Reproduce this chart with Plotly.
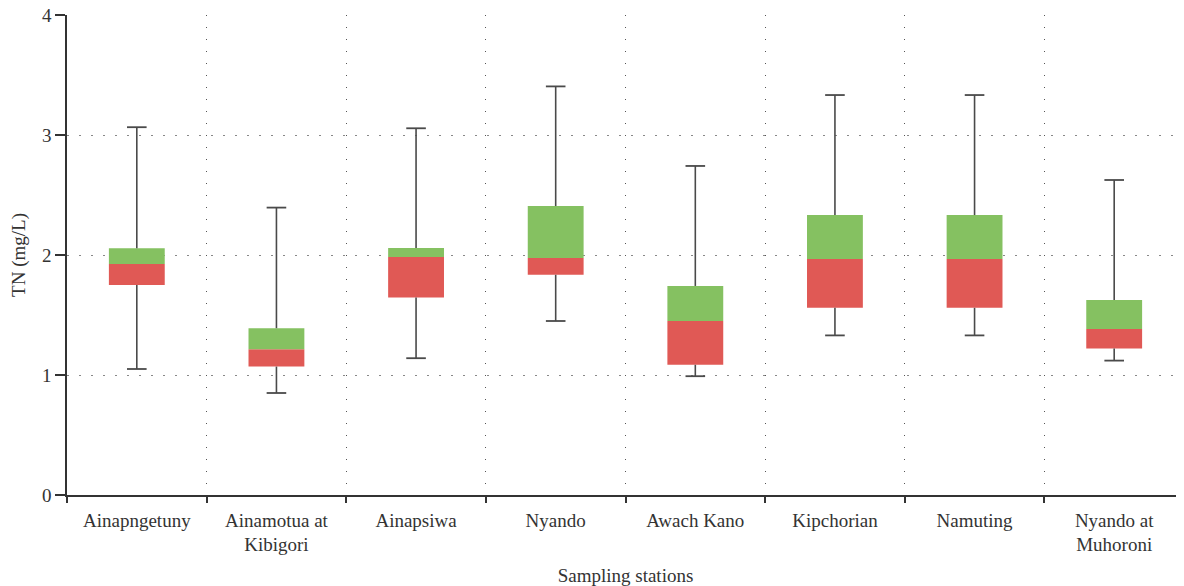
import plotly.graph_objects as go

stations = ["Ainapngetuny", "Ainamotua at<br>Kibigori", "Ainapsiwa", "Nyando",
            "Awach Kano", "Kipchorian", "Namuting", "Nyando at<br>Muhoroni"]
whisker_low = [1.05, 0.85, 1.14, 1.45, 0.99, 1.33, 1.33, 1.12]
q1 = [1.75, 1.07, 1.645, 1.835, 1.085, 1.56, 1.56, 1.22]
median = [1.925, 1.215, 1.983, 1.975, 1.45, 1.967, 1.967, 1.383]
q3 = [2.056, 1.39, 2.058, 2.408, 1.742, 2.333, 2.333, 1.625]
whisker_high = [3.065, 2.395, 3.056, 3.405, 2.742, 3.333, 3.333, 2.625]

RED = "#E05955"
GREEN = "#85C161"
WHISK = "#4a4a4a"
FONT = "Liberation Serif"
FS = 19

fig = go.Figure()

fig.add_trace(go.Bar(
    x=stations, y=[m - a for m, a in zip(median, q1)], base=q1,
    marker=dict(color=RED, line=dict(width=0)), width=0.4, showlegend=False))
fig.add_trace(go.Bar(
    x=stations, y=[b - m for b, m in zip(q3, median)], base=median,
    marker=dict(color=GREEN, line=dict(width=0)), width=0.4, showlegend=False))

# Whisker stems (no caps)
fig.add_trace(go.Scatter(
    x=stations, y=q3, mode="markers", marker=dict(size=1, color="rgba(0,0,0,0)"),
    error_y=dict(type="data", symmetric=False,
                 array=[h - t for h, t in zip(whisker_high, q3)],
                 arrayminus=[0] * len(q3), color=WHISK, thickness=1.6, width=0),
    showlegend=False, hoverinfo="skip"))
fig.add_trace(go.Scatter(
    x=stations, y=q1, mode="markers", marker=dict(size=1, color="rgba(0,0,0,0)"),
    error_y=dict(type="data", symmetric=False,
                 array=[0] * len(q1),
                 arrayminus=[b - l for b, l in zip(q1, whisker_low)],
                 color=WHISK, thickness=1.6, width=0),
    showlegend=False, hoverinfo="skip"))
# Whisker caps
for vals in (whisker_high, whisker_low):
    fig.add_trace(go.Scatter(
        x=stations, y=vals, mode="markers",
        marker=dict(symbol="line-ew", size=14, color=WHISK,
                    line=dict(color=WHISK, width=1.8)),
        showlegend=False, hoverinfo="skip"))

fig.update_layout(
    width=1176, height=578,
    margin=dict(l=59, r=0, t=7, b=91),
    paper_bgcolor="white", plot_bgcolor="white",
    barmode="overlay",
    font=dict(family=FONT, size=FS, color="#333"),
    xaxis=dict(
        type="category", tickson="boundaries", ticks="outside", ticklen=6,
        tickcolor="#333", tickwidth=1.5, automargin=True,
        showline=True, linecolor="#333", linewidth=1.5,
        showgrid=True, gridcolor="#555", gridwidth=1, griddash="1px,11px",
        ticklabelstandoff=7, ticklabeloverflow="allow",
        title=dict(text="Sampling stations", font=dict(family=FONT, size=FS), standoff=14),
        tickfont=dict(family=FONT, size=FS),
    ),
    yaxis=dict(
        range=[0, 4], tickvals=[0, 1, 2, 3, 4], ticks="outside", ticklen=10,
        tickcolor="#333", tickwidth=1.5, automargin=False,
        showline=True, linecolor="#333", linewidth=1.5,
        showgrid=True, gridcolor="#888", gridwidth=1, griddash="1.5px,10.5px",
        zeroline=False, ticklabeloverflow="allow",
        title=dict(text="TN (mg/L)", font=dict(family=FONT, size=FS), standoff=14),
        tickfont=dict(family=FONT, size=FS),
    ),
)

fig.write_html("out.html")
